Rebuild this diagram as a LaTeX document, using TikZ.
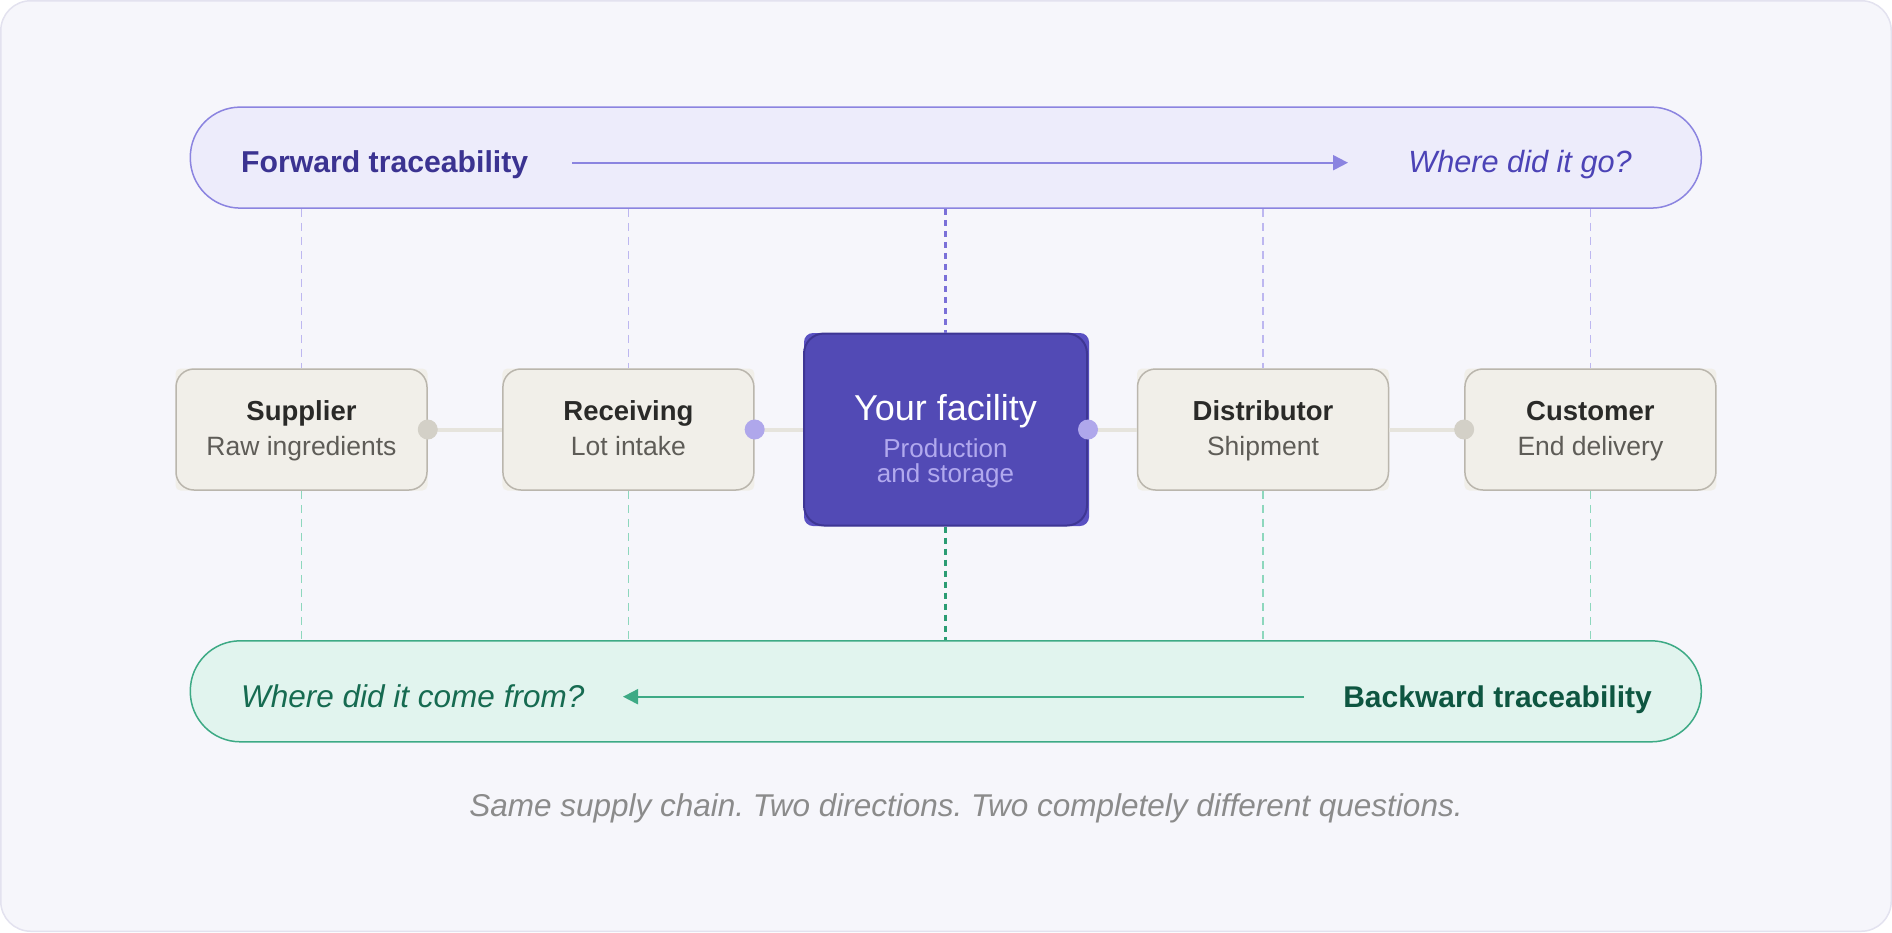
\documentclass[tikz,border=0pt]{standalone}
\usepackage{fontspec}
\setmainfont{Liberation Sans}
\usetikzlibrary{arrows.meta,calc}
\definecolor{bgc}{HTML}{F6F6FB}
\definecolor{framec}{HTML}{E3E2EF}
\definecolor{fwdfill}{HTML}{EDECFB}
\definecolor{fwdline}{HTML}{8B84E0}
\definecolor{fwdtext}{HTML}{3B3391}
\definecolor{fwdital}{HTML}{4C43B6}
\definecolor{bwdfill}{HTML}{E1F4EE}
\definecolor{bwdline}{HTML}{3DAA85}
\definecolor{bwdtext}{HTML}{0E5641}
\definecolor{bwdital}{HTML}{166B51}
\definecolor{boxfill}{HTML}{F1EFE9}
\definecolor{boxline}{HTML}{BAB6AD}
\definecolor{titlec}{HTML}{2A2A28}
\definecolor{subc}{HTML}{5E5C57}
\definecolor{facfill}{HTML}{524AB5}
\definecolor{facunder}{HTML}{5A51C2}
\definecolor{facline}{HTML}{3E3694}
\definecolor{facsub}{HTML}{B1A9EE}
\definecolor{dotgray}{HTML}{D3D0C7}
\definecolor{dotlav}{HTML}{AFA7EB}
\definecolor{connc}{HTML}{E6E4DD}
\definecolor{dashlav}{HTML}{BDB7F0}
\definecolor{dashpur}{HTML}{7A70D8}
\definecolor{dashgrn}{HTML}{8DD7BD}
\definecolor{dashdkg}{HTML}{2B9C73}
\definecolor{capc}{HTML}{8B8B8B}
\newcommand{\fsz}[1]{\fontsize{#1}{#1}\selectfont}
\frenchspacing
\begin{document}
\begin{tikzpicture}[x=1pt,y=-1pt,
  pill/.style={line width=1.5pt, rounded corners=50pt, minimum width=1511pt, minimum height=101pt, inner sep=0pt},
  stagebox/.style={draw=boxline, fill=boxfill, line width=1.5pt, rounded corners=18pt, minimum width=251pt, minimum height=121pt, inner sep=0pt},
  stageunder/.style={fill=boxfill, rounded corners=5pt, minimum width=252pt, minimum height=122pt, inner sep=0pt},
  facbox/.style={draw=facline, fill=facfill, line width=2pt, rounded corners=20pt, minimum width=283pt, minimum height=192pt, inner sep=0pt},
  facunderstyle/.style={fill=facunder, rounded corners=9pt, minimum width=285pt, minimum height=193pt, inner sep=0pt},
  txt/.style={inner sep=0pt, anchor=base},
  ttl/.style={txt, text=titlec, font=\bfseries\fsz{27.5}},
  sub/.style={txt, text=subc, font=\fsz{26.5}},
  conn/.style={draw=connc, line width=4pt},
  dot/.style={circle, inner sep=0pt, minimum size=20pt},
  vdash/.style={line width=1.5pt, dash pattern=on 8pt off 6pt},
  vdashc/.style={line width=2.2pt, dash pattern=on 6pt off 5pt},
  tip/.style={-{Triangle[length=15pt,width=15pt]}, line width=2pt}
]
\useasboundingbox (0,0) rectangle (1892,932);
\draw[fill=bgc, draw=framec, line width=1.5pt, rounded corners=30pt] (0.75,0.75) rectangle (1891.25,931.25);

% pills
\node[pill, draw=fwdline, fill=fwdfill] (fwd) at (945.8,157.6) {};
\node[pill, draw=bwdline, fill=bwdfill] (bwd) at (945.8,691.3) {};

% dashed guides
\coordinate (cs) at (301.5,429.5);
\coordinate (cr) at (628.4,429.5);
\coordinate (cf) at (945.5,429.5);
\coordinate (cd) at (1263,429.5);
\coordinate (cc) at (1590.4,429.5);

% stage boxes
\node[stageunder] (supu) at (cs) {};
\node[stageunder] (recu) at (cr) {};
\node[facunderstyle] (facu) at ($(cf)+(1,0)$) {};
\node[stageunder] (disu) at (cd) {};
\node[stageunder] (cusu) at (cc) {};
\node[stagebox] (sup) at (cs) {};
\node[stagebox] (rec) at (cr) {};
\node[facbox]   (fac) at (cf) {};
\node[stagebox] (dis) at (cd) {};
\node[stagebox] (cus) at (cc) {};

\draw[vdash, draw=dashlav] (sup.north |- fwd.south) -- (sup.north);
\draw[vdash, draw=dashlav] (rec.north |- fwd.south) -- (rec.north);
\draw[vdashc, draw=dashpur] (fac.north |- fwd.south) -- (fac.north);
\draw[vdash, draw=dashlav] (dis.north |- fwd.south) -- (dis.north);
\draw[vdash, draw=dashlav] (cus.north |- fwd.south) -- (cus.north);
\draw[vdash, draw=dashgrn] (sup.south) -- (sup.south |- bwd.north);
\draw[vdash, draw=dashgrn] (rec.south) -- (rec.south |- bwd.north);
\draw[vdashc, draw=dashdkg] (fac.south) -- (fac.south |- bwd.north);
\draw[vdash, draw=dashgrn] (dis.south) -- (dis.south |- bwd.north);
\draw[vdash, draw=dashgrn] (cus.south) -- (cus.south |- bwd.north);

% connectors
\draw[conn] (sup.east) -- (rec.west);
\draw[conn] (rec.east) -- (fac.west);
\draw[conn] (fac.east) -- (dis.west);
\draw[conn] (dis.east) -- (cus.west);
\node[dot, fill=dotgray] (d1) at (sup.east) {};
\node[dot, fill=dotlav]  (d2) at (rec.east) {};
\node[dot, fill=dotlav]  (d3) at (fac.east) {};
\node[dot, fill=dotgray] (d4) at (cus.west) {};

% box texts
\node[ttl] (supt) at (301.5,420) {Supplier};
\node[sub] (sups) at (301.5,455) {Raw ingredients};
\node[ttl] (rect) at (628.4,420) {Receiving};
\node[sub] (recs) at (628.4,455) {Lot intake};
\node[ttl] (dist) at (1263,420) {Distributor};
\node[sub] (diss) at (1263,455) {Shipment};
\node[ttl] (cust) at (1590.4,420) {Customer};
\node[sub] (cuss) at (1590.4,455) {End delivery};
\node[txt, text=white, font=\fsz{36}] (fact) at (945.5,420) {Your facility};
\node[txt, text=facsub, font=\fsz{26}] (facs1) at (945.5,457.7) {Production};
\node[txt, text=facsub, font=\fsz{26}] (facs2) at (945.5,482.7) {and storage};

% forward texts and arrow
\node[txt, anchor=base west, text=fwdtext, font=\bfseries\fsz{30.2}] (fwdl) at (241,172.7) {Forward traceability};
\node[txt, anchor=base east, text=fwdital, font=\itshape\fsz{30.7}] (fwdq) at (1632,172.7) {Where did it go?};
\coordinate (fa1) at (572,162.7);
\coordinate (fa2) at (1348,162.7);
\draw[tip, draw=fwdline, fill=fwdline] (fa1) -- (fa2);

% backward texts and arrow
\node[txt, anchor=base west, text=bwdital, font=\itshape\fsz{31.5}] (bwdq) at (241,707.3) {Where did it come from?};
\node[txt, anchor=base east, text=bwdtext, font=\bfseries\fsz{30}] (bwdl) at (1652,707.3) {Backward traceability};
\coordinate (ba1) at (1304,696.7);
\coordinate (ba2) at (623,696.7);
\draw[tip, draw=bwdline, fill=bwdline] (ba1) -- (ba2);

% caption
\node[txt, text=capc, font=\itshape\fsz{31.5}] (cap) at (966,816.7) {Same supply chain. Two directions. Two completely different questions.};
\end{tikzpicture}
\end{document}
